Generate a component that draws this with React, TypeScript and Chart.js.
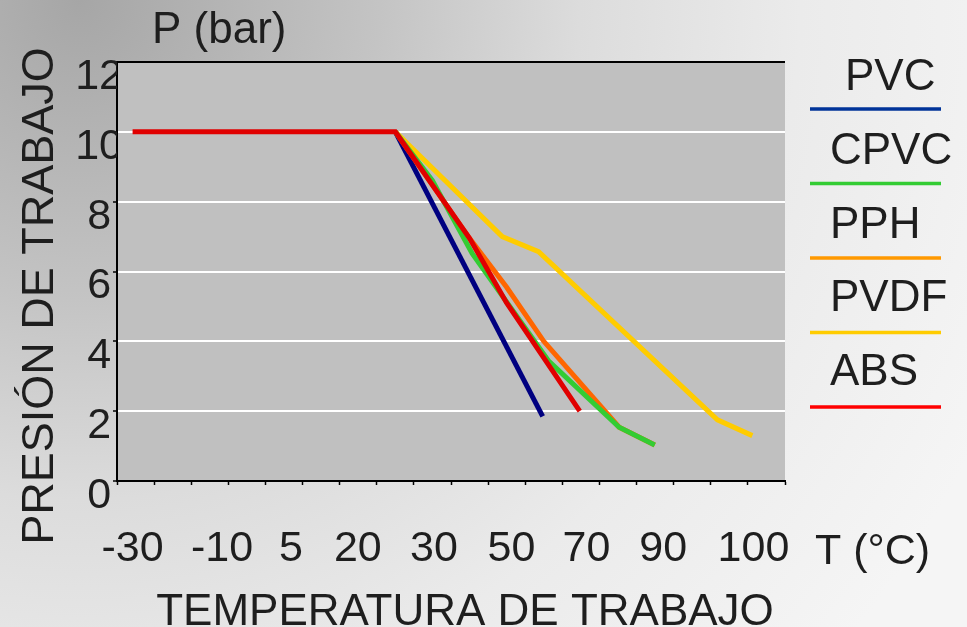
import React, { useEffect, useRef } from 'react';
import { Chart, registerables } from 'chart.js';

Chart.register(...registerables);

// ---- data ----
const xTickLabels = ['-30', '-10', '5', '20', '30', '50', '70', '90', '100'];
// positions of the temperature labels along the axis (axis divisions)
const xTickPos = [0.42, 2.83, 4.69, 6.49, 8.54, 10.63, 12.65, 14.72, 17.15];

const seriesNames = ['PVC', 'CPVC', 'PPH', 'PVDF', 'ABS'];
const lineColors = ['#000080', '#33cc33', '#ff6600', '#ffcc00', '#e00000'];
const legendColors = ['#003399', '#33cc33', '#ff9900', '#ffcc00', '#ff0000'];
const drawOrder = [3, 1, 2, 4, 0];

const pvcX = [7.5, 11.47];
const pvcY = [10, 1.85];
const cpvcX = [7.5, 8.5, 9.57, 11.62, 13.53, 14.49];
const cpvcY = [10, 8.6, 6.52, 3.45, 1.54, 1.03];
const pphX = [7.5, 9.5, 10.5, 11.5, 13.53, 14.49];
const pphY = [10, 6.95, 5.55, 4.0, 1.54, 1.03];
const pvdfX = [7.5, 10.38, 11.36, 16.18, 17.12];
const pvdfY = [10, 7.0, 6.57, 1.75, 1.3];
const absX = [0.42, 7.5, 9.5, 10.5, 12.47];
const absY = [10, 10, 6.95, 5.1, 2.0];

const seriesX = [pvcX, cpvcX, pphX, pvdfX, absX];
const seriesY = [pvcY, cpvcY, pphY, pvdfY, absY];

const yAxisTitle = 'PRESIÓN DE TRABAJO';
const xAxisTitle = 'TEMPERATURA DE TRABAJO';
const yUnit = 'P (bar)';
const xUnit = 'T (°C)';

const FONT = "'Liberation Sans', Arial, sans-serif";
const TEXT = '#1e1e1e';

const backgroundPlugin = {
  id: 'bgPlugin',
  beforeDraw(chart: any) {
    const { ctx, width, height, chartArea } = chart;
    ctx.save();
    const g = ctx.createRadialGradient(80, 0, 0, 80, 0, 1000);
    g.addColorStop(0, '#a6a6a6');
    g.addColorStop(0.3, '#c4c4c4');
    g.addColorStop(0.5, '#dcdcdc');
    g.addColorStop(0.72, '#ebebeb');
    g.addColorStop(1, '#f5f5f5');
    ctx.fillStyle = g;
    ctx.fillRect(0, 0, width, height);
    ctx.fillStyle = '#c0c0c0';
    ctx.fillRect(chartArea.left, chartArea.top, chartArea.right - chartArea.left, chartArea.bottom - chartArea.top);
    ctx.restore();
  },
};

const textPlugin = {
  id: 'textPlugin',
  afterDraw(chart: any) {
    const { ctx } = chart;
    ctx.save();
    ctx.fillStyle = TEXT;
    ctx.font = `44px ${FONT}`;
    ctx.textBaseline = 'alphabetic';
    ctx.textAlign = 'left';
    ctx.fillText(yUnit, 152, 43);
    ctx.font = `43px ${FONT}`;
    ctx.fillText(xUnit, 815, 564);
    ctx.font = `44px ${FONT}`;
    ctx.textAlign = 'center';
    ctx.fillText(xAxisTitle, 465, 625);
    ctx.save();
    ctx.translate(53, 296);
    ctx.rotate(-Math.PI / 2);
    ctx.font = `45px ${FONT}`;
    ctx.fillText(yAxisTitle, 0, 0);
    ctx.restore();

    // legend: label above a line sample
    ctx.textAlign = 'left';
    chart.data.datasets.forEach((ds: any, i: number) => {
      ctx.fillStyle = TEXT;
      ctx.font = `44px ${FONT}`;
      ctx.fillText(ds.label, i === 0 ? 845 : 830, 90 + i * 73.8);
      ctx.strokeStyle = legendColors[i];
      ctx.lineWidth = 3.5;
      ctx.beginPath();
      ctx.moveTo(810, 109 + i * 74.5);
      ctx.lineTo(941, 109 + i * 74.5);
      ctx.stroke();
    });
    ctx.restore();
  },
};

export default function App() {
  const ref = useRef<HTMLCanvasElement>(null);
  useEffect(() => {
    document.body.style.margin = '0';
    const datasets = seriesNames.map((name, i) => ({
      label: name,
      data: seriesX[i].map((x, j) => ({ x, y: seriesY[i][j] })),
      borderColor: lineColors[i],
      backgroundColor: lineColors[i],
      borderWidth: 5,
      pointRadius: 0,
      fill: false,
      tension: 0,
      order: drawOrder[i],
    }));
    const chart = new Chart(ref.current as HTMLCanvasElement, {
      type: 'line',
      data: { datasets },
      plugins: [backgroundPlugin, textPlugin],
      options: {
        animation: false,
        responsive: true,
        maintainAspectRatio: false,
        layout: { padding: { top: 62, right: 182, left: 0, bottom: 0 } },
        plugins: { legend: { display: false }, tooltip: { enabled: false } },
        scales: {
          x: {
            type: 'linear',
            position: 'bottom',
            min: 0,
            max: 18,
            ticks: { stepSize: 1, display: false, autoSkip: false },
            grid: {
              display: true,
              drawOnChartArea: false,
              drawTicks: true,
              tickLength: 4,
              tickColor: '#000',
              tickWidth: 1.5,
            },
            border: { display: true, color: '#000', width: 2 },
            afterFit: (s: any) => { s.height = 4; },
          },
          x2: {
            type: 'linear',
            position: 'bottom',
            min: 0,
            max: 18,
            grid: { display: false, drawTicks: false },
            border: { display: false },
            afterBuildTicks: (s: any) => { s.ticks = xTickPos.map((v) => ({ value: v })); },
            ticks: {
              autoSkip: false,
              maxRotation: 0,
              padding: 38,
              color: TEXT,
              font: { family: FONT, size: 43 },
              callback: (_v: any, i: number) => xTickLabels[i],
            },
            afterFit: (s: any) => { s.height = 142; },
          },
          y: {
            type: 'linear',
            min: 0,
            max: 12,
            ticks: {
              stepSize: 2,
              padding: -10,
              crossAlign: 'center',
              labelOffset: 15,
              color: TEXT,
              font: { family: FONT, size: 43 },
            },
            grid: {
              color: (c: any) => (c.tick && c.tick.value === 12 ? '#000' : c.tick && c.tick.value === 0 ? 'rgba(0,0,0,0)' : '#ffffff'),
              lineWidth: 2,
              drawTicks: true,
              tickLength: 4,
              tickColor: '#000',
              tickWidth: 1.5,
            },
            border: { display: true, color: '#000', width: 2 },
            afterFit: (s: any) => { s.width = 117; },
          },
        },
      } as any,
    });
    return () => chart.destroy();
  }, []);
  return (
    <div style={{ width: 967, height: 627, position: 'relative' }}>
      <canvas ref={ref} />
    </div>
  );
}
